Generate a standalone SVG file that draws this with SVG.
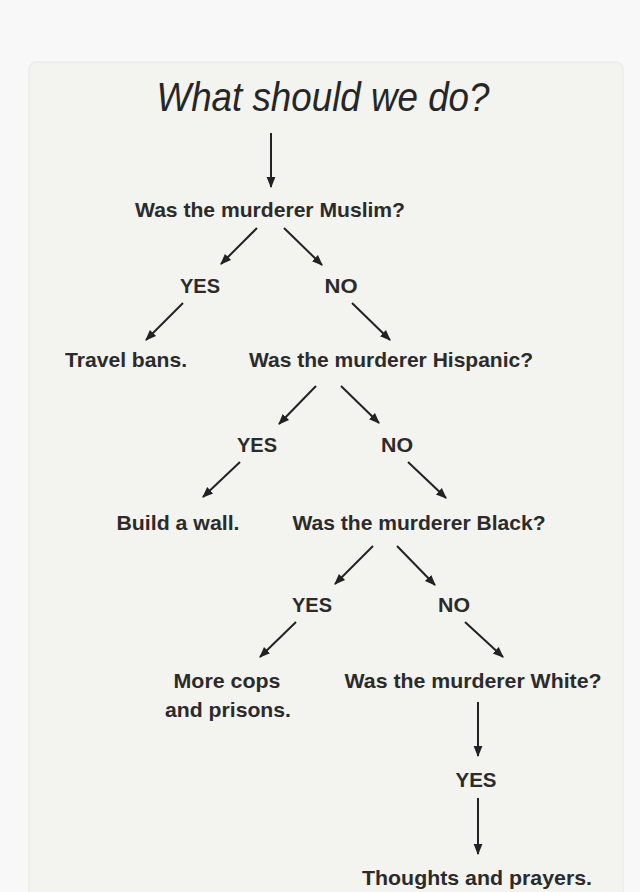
<svg xmlns="http://www.w3.org/2000/svg" width="640" height="892" viewBox="0 0 640 892">
<defs>
<marker id="ah" viewBox="0 0 10 10" refX="9" refY="5" markerWidth="5.5" markerHeight="5.5" markerUnits="strokeWidth" orient="auto">
<path d="M0,1 L10,5 L0,9 z" fill="#222"/>
</marker>
</defs>
<style>
.q{font-family:"Liberation Sans",Arial,sans-serif;font-weight:bold;font-size:21px;fill:#2b2b2b}
.t{font-family:"Liberation Sans",Arial,sans-serif;font-style:italic;font-size:40px;fill:#262626}
.c line{stroke:#222;stroke-width:2;marker-end:url(#ah)}
</style>
<rect x="0" y="0" width="640" height="892" fill="#f8f8f8"/>
<rect id="panel" x="29" y="62" width="594" height="850" rx="7" fill="#f3f3f0" stroke="#e6e6e4" stroke-width="1"/>
<g id="title"><text class="t" x="323" y="111" text-anchor="middle" textLength="333" lengthAdjust="spacingAndGlyphs">What should we do?</text></g>
<g id="n1"><text class="q" x="270" y="217" text-anchor="middle" textLength="270" lengthAdjust="spacingAndGlyphs">Was the murderer Muslim?</text></g>
<g id="n1yes"><text class="q" x="200" y="293" text-anchor="middle" textLength="40" lengthAdjust="spacingAndGlyphs">YES</text></g>
<g id="n1no"><text class="q" x="341" y="293" text-anchor="middle" textLength="33" lengthAdjust="spacingAndGlyphs">NO</text></g>
<g id="r1"><text class="q" x="126" y="367" text-anchor="middle" textLength="122" lengthAdjust="spacingAndGlyphs">Travel bans.</text></g>
<g id="n2"><text class="q" x="391" y="367" text-anchor="middle" textLength="284" lengthAdjust="spacingAndGlyphs">Was the murderer Hispanic?</text></g>
<g id="n2yes"><text class="q" x="257" y="452" text-anchor="middle" textLength="40" lengthAdjust="spacingAndGlyphs">YES</text></g>
<g id="n2no"><text class="q" x="397" y="452" text-anchor="middle" textLength="32" lengthAdjust="spacingAndGlyphs">NO</text></g>
<g id="r2"><text class="q" x="178" y="530" text-anchor="middle" textLength="123" lengthAdjust="spacingAndGlyphs">Build a wall.</text></g>
<g id="n3"><text class="q" x="419" y="530" text-anchor="middle" textLength="253" lengthAdjust="spacingAndGlyphs">Was the murderer Black?</text></g>
<g id="n3yes"><text class="q" x="312" y="612" text-anchor="middle" textLength="40" lengthAdjust="spacingAndGlyphs">YES</text></g>
<g id="n3no"><text class="q" x="454" y="612" text-anchor="middle" textLength="32" lengthAdjust="spacingAndGlyphs">NO</text></g>
<g id="r3"><text class="q" x="227" y="688" text-anchor="middle" textLength="107" lengthAdjust="spacingAndGlyphs">More cops</text><text class="q" x="228" y="717" text-anchor="middle" textLength="126" lengthAdjust="spacingAndGlyphs">and prisons.</text></g>
<g id="n4"><text class="q" x="473" y="688" text-anchor="middle" textLength="257" lengthAdjust="spacingAndGlyphs">Was the murderer White?</text></g>
<g id="n4yes"><text class="q" x="476" y="787" text-anchor="middle" textLength="41" lengthAdjust="spacingAndGlyphs">YES</text></g>
<g id="r4"><text class="q" x="477" y="885" text-anchor="middle" textLength="230" lengthAdjust="spacingAndGlyphs">Thoughts and prayers.</text></g>
<g id="connectors" class="c">
<line x1="271" y1="133" x2="271" y2="187"/>
<line x1="257" y1="228" x2="221" y2="264"/>
<line x1="284" y1="228" x2="322" y2="265"/>
<line x1="183" y1="303" x2="146" y2="340"/>
<line x1="352" y1="303" x2="390" y2="340"/>
<line x1="316" y1="386" x2="279" y2="424"/>
<line x1="341" y1="386" x2="379" y2="423"/>
<line x1="240" y1="462" x2="203" y2="497"/>
<line x1="408" y1="462" x2="446" y2="498"/>
<line x1="373" y1="546" x2="335" y2="584"/>
<line x1="397" y1="546" x2="435" y2="585"/>
<line x1="296" y1="622" x2="260" y2="657"/>
<line x1="465" y1="622" x2="503" y2="657"/>
<line x1="478" y1="702" x2="478" y2="756"/>
<line x1="478" y1="798" x2="478" y2="854"/>
</g>
</svg>
